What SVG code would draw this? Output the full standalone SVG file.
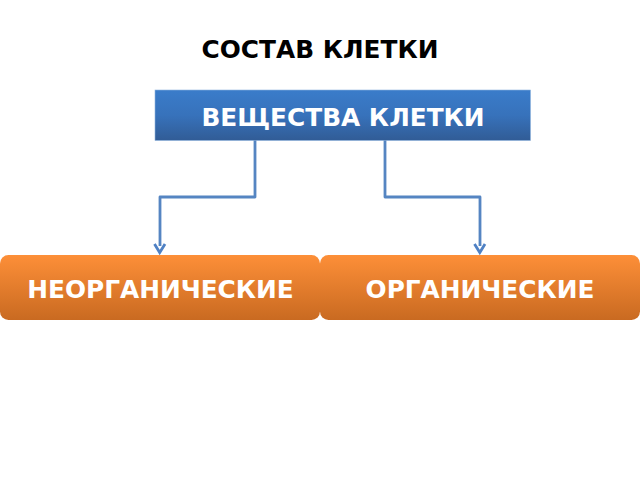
<svg xmlns="http://www.w3.org/2000/svg" width="640" height="480" viewBox="0 0 640 480">
<style>
text{font-family:"DejaVu Sans","Noto Sans",sans-serif;font-weight:700;text-anchor:middle;font-size:24.8px}
.w{fill:#fff}
.c{fill:none;stroke:#5585c2;stroke-width:2.8;stroke-linejoin:round}
.h{fill:none;stroke:#4f81c4;stroke-width:2.8}
</style>
<defs>
<linearGradient id="b" x1="0" y1="0" x2="0" y2="1"><stop offset="0" stop-color="#3a7cca"/><stop offset="0.5" stop-color="#3772bb"/><stop offset="1" stop-color="#315c96"/></linearGradient>
<linearGradient id="o" x1="0" y1="0" x2="0" y2="1"><stop offset="0" stop-color="#fd8f38"/><stop offset="1" stop-color="#c96a21"/></linearGradient>
</defs>
<rect width="640" height="480" fill="#fff"/>
<text id="title" x="320" y="58" fill="#000">СОСТАВ КЛЕТКИ</text>
<g id="connectors">
<path class="c" d="M255 140V197H160V246"/>
<path class="h" d="M154.500 244L159.700 252.500L165 244"/>
<path class="c" d="M385 140V197H480V246"/>
<path class="h" d="M474.500 244L479.800 252.500L485 244"/>
</g>
<g id="node-substances">
<rect x="155" y="90" width="375.500" height="50.500" fill="url(#b)" stroke="#8fb4de" stroke-width="0.6"/>
<text class="w" x="343" y="125.500">ВЕЩЕСТВА КЛЕТКИ</text>
</g>
<g id="node-inorganic">
<rect x="0" y="255" width="320" height="65" rx="8.500" fill="url(#o)"/>
<text class="w" x="160.500" y="297.500">НЕОРГАНИЧЕСКИЕ</text>
</g>
<g id="node-organic">
<rect x="320" y="255" width="320" height="65" rx="8.500" fill="url(#o)"/>
<text class="w" x="480" y="297.500">ОРГАНИЧЕСКИЕ</text>
</g>
</svg>
